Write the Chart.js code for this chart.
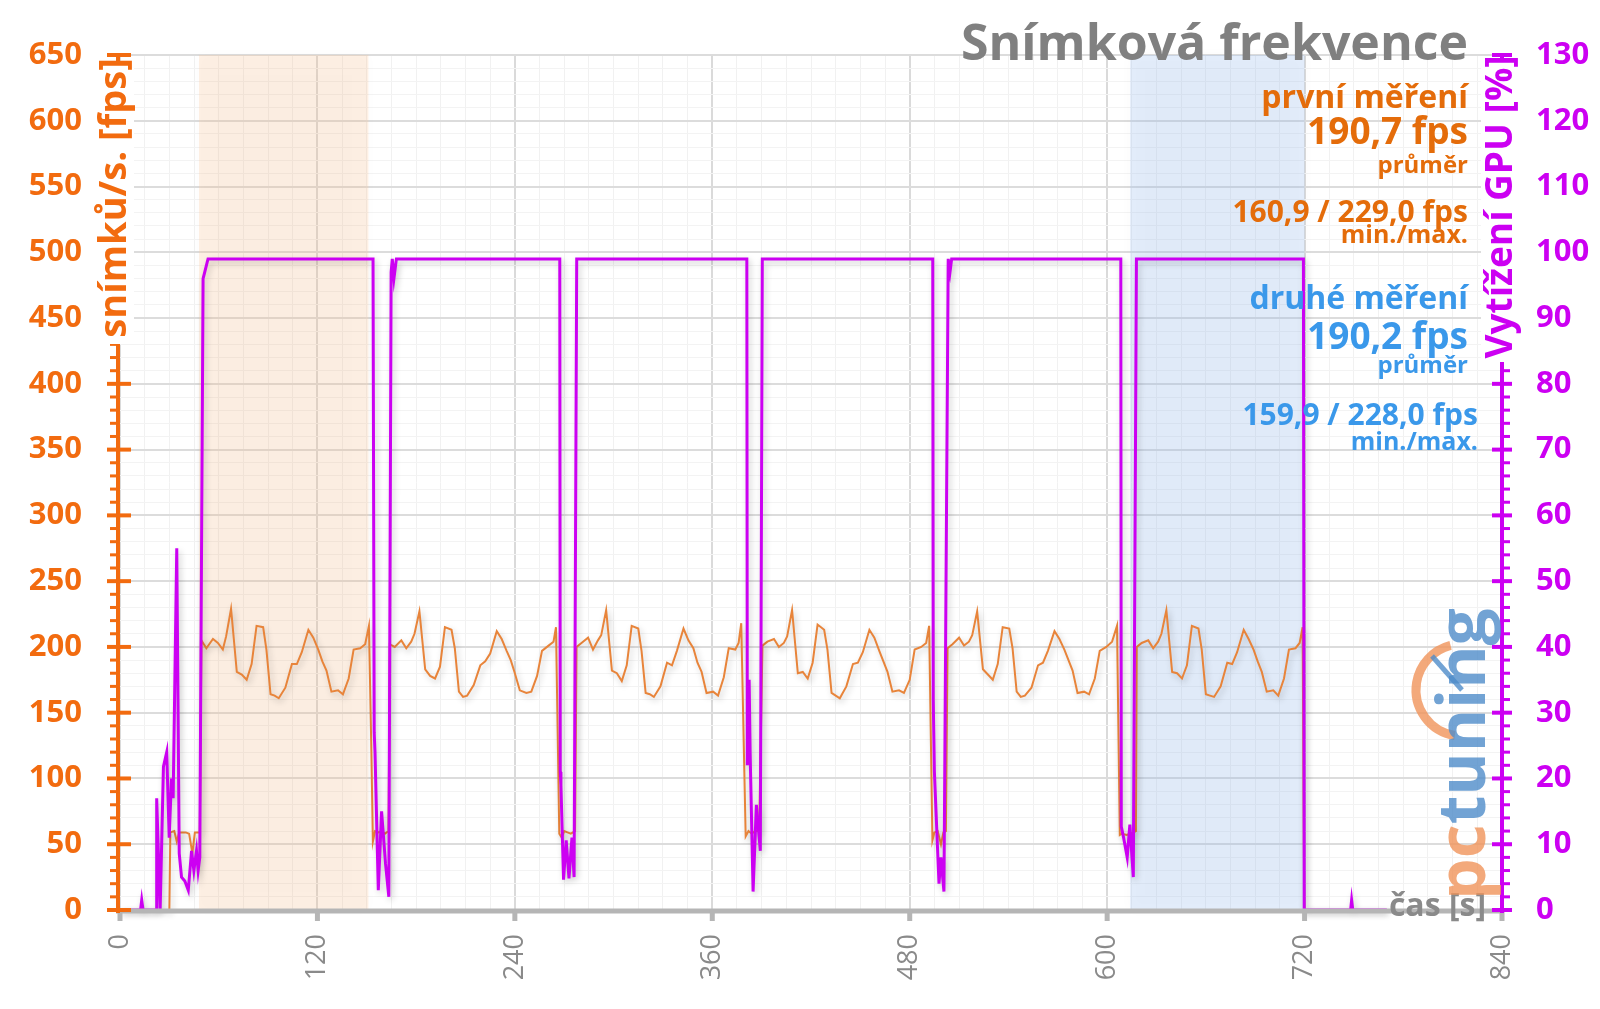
<!DOCTYPE html>
<html>
<head>
<meta charset="utf-8">
<script src="https://cdn.jsdelivr.net/npm/chart.js@4.4.1/dist/chart.umd.min.js"></script>
<style>
  html, body { margin: 0; background: #fff; }
  canvas { display: block; }
</style>
</head>
<body>
<canvas id="fpsChart" width="1600" height="1009"></canvas>
<script>
// snímková frekvence — fps + GPU load over time

// ── DATA ──
const X_TICKS = [0, 120, 240, 360, 480, 600, 720, 840];
const FPS_TICKS = [0, 50, 100, 150, 200, 250, 300, 350, 400, 450, 500, 550, 600, 650];
const GPU_TICKS = [0, 10, 20, 30, 40, 50, 60, 70, 80, 90, 100, 110, 120, 130];

const BAND_FIRST = [48, 151];
const BAND_SECOND = [614, 720];

// time [s] / fps
const FPS_T = [
    0, 30, 30.6, 33, 34.5, 36, 40, 42, 44, 45.5, 48.5,
    49.5, 52.5, 56.5, 59.5, 62.5, 64.5, 67.5, 71, 74, 77, 80, 83, 87, 89, 91.5, 94, 96.5, 100.5, 104.5, 107.5, 110.5, 114.5, 117.5, 120.5, 123, 125.5, 128.5, 132.5, 135.5, 139, 142, 146, 149, 151.3,
    152.8, 153.7, 155, 157, 159, 161, 163.2,
    164, 167, 171, 174, 177, 179, 182, 185.5, 188.5, 191.5, 194.5, 197.5, 201.5, 203.5, 206, 208.5, 211, 215, 219, 222, 225, 229, 232, 235, 237.5, 240, 243, 247, 250, 253.5, 256.5, 260.5, 263.5, 265,
    267, 268.5, 270, 272, 274, 276.6,
    277.5, 280.5, 284.5, 287.5, 290.5, 292.5, 295.5, 299, 302, 305, 308, 311, 315, 317, 319.5, 322, 324.5, 328.5, 332.5, 335.5, 338.5, 342.5, 345.5, 348.5, 351, 353.5, 356.5, 360.5, 363.5, 367, 370, 374, 376, 377.6,
    380.3, 382, 384, 386, 388.5,
    390.5, 393.5, 397.5, 400.5, 403.5, 405.5, 408.5, 412, 415, 418, 421, 424, 428, 430, 432.5, 435, 437.5, 441.5, 445.5, 448.5, 451.5, 455.5, 458.5, 461.5, 464, 466.5, 469.5, 473.5, 476.5, 480, 483, 487, 490, 491.8,
    493.8, 495, 497, 499, 500.5, 502,
    503, 506, 510, 513, 516, 518, 521, 524.5, 527.5, 530.5, 533.5, 536.5, 540.5, 542.5, 545, 547.5, 550, 554, 558, 561, 564, 568, 571, 574, 576.5, 579, 582, 586, 589, 592.5, 595.5, 599.5, 603, 606,
    607.7, 609, 612, 614, 617.5,
    618, 621, 625, 628, 631, 633, 636, 639.5, 642.5, 645.5, 648.5, 651.5, 655.5, 657.5, 660, 662.5, 665, 669, 673, 676, 679, 683, 686, 689, 691.5, 694, 697, 701, 704, 707.5, 710.5, 714.5, 717, 718.8,
    719.8, 770
];
const FPS_V = [
    0, 0, 59, 60, 52, 59, 59, 58, 43, 59, 59,
    205, 199, 206, 203, 198, 208, 229, 181, 179, 175, 187, 216, 215, 198, 164, 163, 161, 169, 187, 187, 196, 213, 207, 198, 189, 182, 166, 167, 164, 176, 198, 199, 202, 216,
    120, 52, 60, 59, 60, 58, 60,
    202, 200, 205, 199, 204, 210, 227, 183, 178, 176, 185, 215, 213, 199, 166, 162, 163, 171, 186, 189, 195, 212, 206, 197, 190, 180, 167, 165, 166, 178, 197, 201, 204, 215,
    58, 55, 60, 59, 58, 60,
    200, 203, 207, 198, 205, 209, 228, 182, 180, 174, 186, 216, 214, 197, 165, 164, 162, 170, 188, 186, 197, 214, 205, 199, 188, 181, 165, 166, 163, 177, 199, 198, 203, 218,
    56, 60, 58, 60, 60,
    201, 204, 206, 200, 203, 208, 228, 180, 181, 176, 188, 217, 213, 198, 165, 163, 161, 170, 187, 188, 196, 213, 207, 197, 189, 181, 166, 167, 165, 175, 198, 200, 203, 216,
    53, 59, 60, 50, 59, 60,
    199, 202, 207, 201, 204, 209, 227, 183, 179, 175, 187, 215, 214, 199, 166, 162, 163, 169, 186, 188, 197, 212, 206, 198, 190, 182, 165, 166, 164, 176, 197, 200, 204, 216,
    57, 58, 57, 58, 60,
    200, 203, 205, 199, 204, 210, 228, 181, 180, 176, 186, 216, 214, 198, 164, 163, 162, 170, 188, 187, 196, 213, 206, 198, 189, 181, 166, 167, 163, 176, 198, 199, 203, 215,
    0, 0
];

// time [s] / GPU load [%]
const GPU_T = [
    0, 12.5, 13.2, 14, 22, 22.3, 24.4, 26.4, 28.4, 29.9, 31.3, 32.3, 34.5, 36, 37.4, 39.4, 41.5, 43.5, 44.9, 46.5, 47.5, 48.5, 50.5, 51.5, 53.5,
    153.8, 154.5, 155, 157, 159, 161.4, 163.4, 164.8, 165.5, 166.5, 168,
    267.3, 267.6, 268, 269.6, 271.2, 272.9, 274.7, 276, 277.6,
    381, 381.3, 382.4, 383, 384.8, 386.8, 389.2, 390.4,
    494, 494.3, 495, 497.8, 499, 500.8, 503.4, 504.5, 505.5,
    608.3, 608.6, 610, 612.2, 613.8, 615.9, 617.8,
    719.3, 719.8, 748, 748.6, 749.3, 770
];
const GPU_V = [
    0, 0, 1.5, 0, 0, 17, 0, 21.8, 24, 11, 20, 17, 55, 8.6, 5, 4.4, 3, 9, 6, 9, 6, 8, 96, 97, 99,
    99, 27, 24, 3, 15, 7, 2, 97, 99, 96, 99,
    99, 21, 19, 4.6, 10.6, 4.8, 11, 5, 99,
    99, 22, 35, 24, 2.8, 16, 9, 99,
    99, 32, 21, 4, 8, 2.8, 99, 97, 99,
    99, 12.7, 11, 8, 13, 5, 99,
    99, 0, 0, 1.5, 0, 0
];

// ── STYLE ──
const ORANGE_AXIS = '#F26B0F';
const ORANGE_TEXT = '#E46C0A';
const ORANGE_LINE = '#E8843A';
const MAGENTA = '#CC00F2';
const BLUE_TEXT = '#3A98EA';
const GRAY_TEXT = '#8a8a8a';
const FONT = '"Open Sans", "DejaVu Sans", sans-serif';

function rotatedText(ctx, text, x, y, font, color, align) {
    ctx.save();
    ctx.translate(x, y);
    ctx.rotate(-Math.PI / 2);
    ctx.font = font;
    ctx.fillStyle = color;
    ctx.textAlign = align;
    ctx.textBaseline = 'middle';
    ctx.fillText(text, 0, 0);
    ctx.restore();
}

function text(ctx, str, x, y, size, color, align = 'right', weight = 'bold') {
    ctx.font = `${weight} ${size}px ${FONT}`;
    ctx.fillStyle = color;
    ctx.textAlign = align;
    ctx.textBaseline = 'middle';
    ctx.fillText(str, x, y);
}

function tick(ctx, x1, y1, x2, y2, color, w) {
    ctx.strokeStyle = color;
    ctx.lineWidth = w;
    ctx.beginPath();
    ctx.moveTo(x1, y1);
    ctx.lineTo(x2, y2);
    ctx.stroke();
}

// shaded measurement windows + soft line shadows
const bands = {
    id: 'bands',
    beforeDatasetsDraw(chart) {
        const { ctx, chartArea: a, scales: { x } } = chart;
        ctx.save();
        ctx.shadowColor = 'rgba(0,0,0,0.08)';
        ctx.shadowBlur = 12;
        ctx.fillStyle = 'rgba(250,200,155,0.27)';
        let l = x.getPixelForValue(BAND_FIRST[0]), r = x.getPixelForValue(BAND_FIRST[1]);
        ctx.fillRect(l, a.top, r - l, a.bottom - a.top);
        ctx.fillStyle = 'rgba(165,200,245,0.30)';
        l = x.getPixelForValue(BAND_SECOND[0]); r = x.getPixelForValue(BAND_SECOND[1]);
        ctx.fillRect(l, a.top, r - l, a.bottom - a.top);
        ctx.restore();
    },
    beforeDatasetDraw(chart) {
        const ctx = chart.ctx;
        ctx.save();
        ctx.shadowColor = 'rgba(0,0,0,0.22)';
        ctx.shadowBlur = 6;
        ctx.shadowOffsetX = 2;
        ctx.shadowOffsetY = 3;
    },
    afterDatasetDraw(chart) {
        chart.ctx.restore();
    }
};

// axes, labels, titles, annotations
const overlay = {
    id: 'overlay',
    afterDatasetsDraw(chart) {
        const { ctx, chartArea: a, scales: { x, y, y2 } } = chart;
        ctx.save();
        ctx.lineCap = 'butt';

        // ── X axis ──
        tick(ctx, a.left - 4, a.bottom + 1, a.right, a.bottom + 1, '#b5b5b5', 5);
        X_TICKS.forEach(t => {
            const px = x.getPixelForValue(t);
            tick(ctx, px, a.bottom, px, a.bottom + 11, '#b5b5b5', 5);
            rotatedText(ctx, String(t), px, a.bottom + 24, `27px ${FONT}`, GRAY_TEXT, 'right');
        });
        text(ctx, 'čas [s]', a.right - 16, a.bottom - 3, 32, GRAY_TEXT, 'right');

        // ── left axis (fps) ──
        const lx = a.left - 2;
        tick(ctx, lx, a.top - 2, lx, a.bottom + 3, ORANGE_AXIS, 4);
        for (let v = 0; v <= 650; v += 10) {
            const py = y.getPixelForValue(v);
            if (v % 50 === 0) tick(ctx, lx - 11, py, lx + 13, py, ORANGE_AXIS, 4);
            else tick(ctx, lx - 8, py, lx, py, ORANGE_AXIS, 3);
        }
        FPS_TICKS.forEach(v => text(ctx, String(v), 82, y.getPixelForValue(v), 31, ORANGE_AXIS, 'right'));
        ctx.fillStyle = '#fff';
        ctx.fillRect(94, 62, 40, 282);
        rotatedText(ctx, 'snímků/s. [fps]', 115, 198, `bold 38px ${FONT}`, ORANGE_AXIS, 'center');

        // ── right axis (GPU) ──
        const rx = a.right;
        tick(ctx, rx, a.top - 2, rx, a.bottom + 3, MAGENTA, 4);
        for (let v = 0; v <= 130; v += 2) {
            const py = y2.getPixelForValue(v);
            if (v % 10 === 0) tick(ctx, rx - 10, py, rx + 10, py, MAGENTA, 4);
            else tick(ctx, rx, py, rx + 8, py, MAGENTA, 3);
        }
        GPU_TICKS.forEach(v => text(ctx, String(v), 1536, y2.getPixelForValue(v), 31, MAGENTA, 'left'));
        ctx.fillStyle = '#fff';
        ctx.fillRect(1481, 60, 40, 302);
        rotatedText(ctx, 'Vytížení GPU [%]', 1501, 207, `bold 37px ${FONT}`, MAGENTA, 'center');

        // ── title + results ──
        text(ctx, 'Snímková frekvence', 1468, 46, 50, '#808080');
        text(ctx, 'první měření', 1468, 99, 32, ORANGE_TEXT);
        text(ctx, '190,7 fps', 1468, 133, 37, ORANGE_TEXT);
        text(ctx, 'průměr', 1468, 166, 24, ORANGE_TEXT);
        text(ctx, '160,9 / 229,0 fps', 1468, 213, 30, ORANGE_TEXT);
        text(ctx, 'min./max.', 1468, 236, 25, ORANGE_TEXT);
        text(ctx, 'druhé měření', 1468, 300, 32, BLUE_TEXT);
        text(ctx, '190,2 fps', 1468, 338, 37, BLUE_TEXT);
        text(ctx, 'průměr', 1468, 366, 24, BLUE_TEXT);
        text(ctx, '159,9 / 228,0 fps', 1478, 416, 30, BLUE_TEXT);
        text(ctx, 'min./max.', 1478, 443, 25, BLUE_TEXT);

        // ── watermark ──
        ctx.globalAlpha = 0.8;
        ctx.strokeStyle = '#F0935A';
        ctx.lineWidth = 9;
        ctx.beginPath();
        ctx.arc(1462, 690, 46, 0.55 * Math.PI, 1.42 * Math.PI);
        ctx.stroke();
        tick(ctx, 1432, 656, 1462, 690, '#4F8CC9', 5);
        ctx.font = `bold 66px ${FONT}`;
        ctx.save();
        ctx.translate(1466, 900);
        ctx.rotate(-Math.PI / 2);
        ctx.textAlign = 'left';
        ctx.textBaseline = 'middle';
        ctx.fillStyle = '#F0935A';
        ctx.fillText('pc', 0, 0);
        const w = ctx.measureText('pc').width;
        ctx.fillStyle = '#4F8CC9';
        ctx.fillText('tuning', w, 0);
        ctx.restore();

        ctx.restore();
    }
};

const majorX = c => c.tick && c.tick.value % 120 === 0;
const majorY = c => c.tick && c.tick.value % 50 === 0;

new Chart(document.getElementById('fpsChart'), {
    type: 'line',
    data: {
        datasets: [
            {
                label: 'Vytížení GPU',
                data: GPU_T.map((t, i) => ({ x: t, y: GPU_V[i] })),
                yAxisID: 'y2',
                borderColor: MAGENTA,
                borderWidth: 3,
                pointRadius: 0,
                tension: 0,
                clip: false,
            },
            {
                label: 'fps',
                data: FPS_T.map((t, i) => ({ x: t, y: FPS_V[i] })),
                yAxisID: 'y',
                borderColor: ORANGE_LINE,
                borderWidth: 2,
                pointRadius: 0,
                tension: 0,
                clip: false,
            }
        ]
    },
    options: {
        responsive: false,
        animation: false,
        layout: { padding: { left: 120, right: 98, top: 55, bottom: 99 } },
        scales: {
            x: {
                type: 'linear', min: 0, max: 840,
                ticks: { display: false, stepSize: 15, autoSkip: false, maxTicksLimit: 200 },
                grid: {
                    drawTicks: false,
                    color: c => majorX(c) ? '#dadada' : '#f1f1f1',
                    lineWidth: c => majorX(c) ? 2 : 1,
                },
                border: { display: false }
            },
            y: {
                min: 0, max: 650,
                ticks: { display: false, stepSize: 10, maxTicksLimit: 200 },
                grid: {
                    drawTicks: false,
                    color: c => majorY(c) ? '#dcdcdc' : '#f3f3f3',
                    lineWidth: c => majorY(c) ? 2 : 1,
                },
                border: { display: false }
            },
            y2: { display: false, position: 'right', min: 0, max: 130 }
        },
        plugins: {
            legend: { display: false },
            tooltip: { enabled: false }
        }
    },
    plugins: [bands, overlay]
});
</script>
</body>
</html>
